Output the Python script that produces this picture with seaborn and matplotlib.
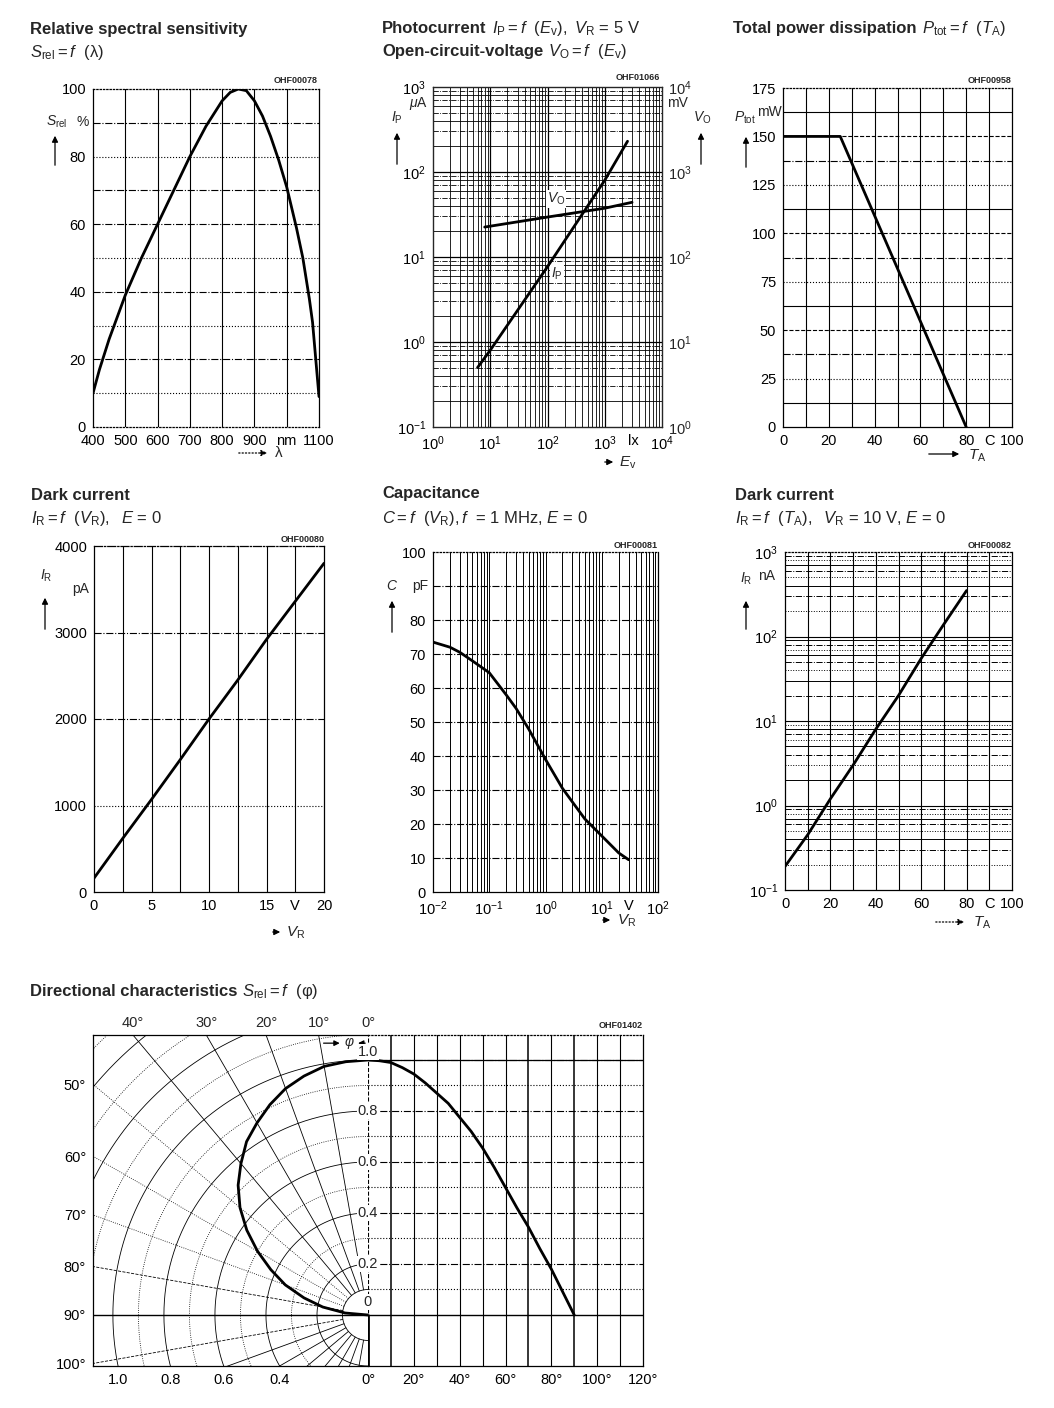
import numpy as np
import matplotlib
matplotlib.use('Agg')
import matplotlib.pyplot as plt
from matplotlib.patches import FancyArrowPatch
from matplotlib.ticker import NullFormatter
import seaborn as sns

W, H = 1054, 1408   # page size in pixels, drawn at dpi 100

# ---- curves ----
# relative spectral sensitivity
wavelength_nm = [400, 420, 450, 500, 550, 600, 650, 700, 750, 800, 825, 850,
                 875, 900, 925, 950, 975, 1000, 1030, 1050, 1070, 1080, 1090, 1100]
s_rel_pct = [10, 17, 26, 39, 50, 60, 70, 80, 89, 96.5, 99, 100,
             99.5, 96.5, 92, 86, 79, 71, 59, 50, 38, 31, 20, 9]

# photocurrent and open-circuit voltage vs illuminance
ev_ip_lx = [6, 10, 100, 1000, 2500]
ip_uA = [0.5, 0.8, 7.7, 80, 230]
ev_vo_lx = [8, 100, 1000, 3000]
vo_mV = [225, 295, 375, 440]

# total power dissipation
ta_ptot_C = [0, 25, 80]
ptot_mW = [150, 150, 0]

# dark current vs reverse voltage
vr_V = [0, 2.5, 5, 7.5, 10, 12.5, 15, 17.5, 20]
ir_pA = [160, 620, 1070, 1530, 2000, 2450, 2920, 3360, 3800]

# capacitance vs reverse voltage
vr_cap_V = [0.01, 0.02, 0.03, 0.05, 0.1, 0.2, 0.3, 0.5, 1, 2, 3, 5, 10, 20, 30]
cap_pF = [73.5, 72, 70.5, 68, 64.5, 58, 54, 48, 39, 30.5, 26.5, 21.5, 16.5, 11.5, 9.5]

# dark current vs ambient temperature
ta_ir_C = [0, 10, 20, 30, 40, 50, 60, 70, 80]
ir_nA = [0.19, 0.45, 1.2, 3.0, 8.0, 20, 55, 140, 350]

# directional characteristics
phi_deg = [0, 5, 10, 15, 20, 25, 30, 35, 40, 45, 50, 55, 60, 65, 70, 75, 80, 85, 90]
s_rel_dir = [1.0, 0.997, 0.99, 0.97, 0.945, 0.91, 0.87, 0.83, 0.775, 0.72, 0.655,
             0.58, 0.50, 0.42, 0.345, 0.26, 0.18, 0.09, 0.0]

sns.set_style('white')
plt.rcParams['font.family'] = ['Liberation Sans Narrow', 'Liberation Sans', 'DejaVu Sans']
plt.rcParams['mathtext.fontset'] = 'custom'
plt.rcParams['mathtext.rm'] = 'Liberation Sans'
plt.rcParams['mathtext.it'] = 'Liberation Sans:italic'
plt.rcParams['mathtext.bf'] = 'Liberation Sans:bold'
plt.rcParams['mathtext.sf'] = 'Liberation Sans'

fig = plt.figure(figsize=(W / 100, H / 100), dpi=100)
fig.patch.set_facecolor('white')
renderer = fig.canvas.get_renderer()
LW = 2.0   # curve width
TS = 10.5  # tick label size


def add_ax(x0, y0, x1, y1):
    ax = fig.add_axes([x0 / W, 1 - y1 / H, (x1 - x0) / W, (y1 - y0) / H])
    ax.set_facecolor('white')
    for sp in ax.spines.values():
        sp.set_color('black'); sp.set_linewidth(0.9)
    ax.tick_params(which='both', length=0, labelsize=TS, pad=5, colors='black')
    return ax


def ftext(x, y, s, **kw):
    kw.setdefault('va', 'baseline')
    return fig.text(x / W, 1 - y / H, s, **kw)


def title(x, y, bold, rest=''):
    t = ftext(x, y, bold, fontsize=12, fontweight='bold', family='Liberation Sans')
    if rest:
        bb = t.get_window_extent(renderer)
        ftext(bb.x1 + 5, y, rest, fontsize=12, family='Liberation Sans')


def arrow(x0, y0, x1, y1, ls='-'):
    fig.add_artist(FancyArrowPatch((x0 / W, 1 - y0 / H), (x1 / W, 1 - y1 / H),
                                   transform=fig.transFigure, arrowstyle='-|>',
                                   mutation_scale=9, lw=0.9, color='black', linestyle=ls))


def curve(ax, x, y):
    sns.lineplot(x=x, y=y, ax=ax, color='black', lw=LW, sort=False, estimator=None)
    ax.set_xlabel(''); ax.set_ylabel('')


def log_lines(lo, hi):
    major = [10.0 ** e for e in range(lo, hi + 1)]
    minor = [k * 10.0 ** e for e in range(lo, hi) for k in range(2, 10)]
    return major, minor


def ohf(x, y, s):
    ftext(x, y, s, fontsize=6.5, ha='right', fontweight='bold')


# ---------------- 1. relative spectral sensitivity ----------------
title(30, 34, 'Relative spectral sensitivity')
ftext(30, 57, r'$S_\mathrm{rel} = f$  (λ)', fontsize=12, family='Liberation Sans')
ax1 = add_ax(93, 89, 319, 427)
for v in range(500, 1100, 100):
    ax1.axvline(v, color='k', lw=0.8)
for v in range(10, 100, 10):
    ax1.axhline(v, color='k', lw=0.8, ls='-.' if v in (20, 40, 60, 70, 90) else ':')
curve(ax1, wavelength_nm, s_rel_pct)
ax1.set_xlim(400, 1100); ax1.set_ylim(0, 100)
ax1.set_xticks(range(400, 1101, 100), ['400', '500', '600', '700', '800', '900', 'nm', '1100'])
ax1.set_yticks(range(0, 101, 20))
ax1.spines['top'].set_linestyle(':'); ax1.spines['bottom'].set_linestyle(':')
ftext(57, 126, r'$S_\mathrm{rel}$', fontsize=10, ha='center')
ftext(83, 126, '%', fontsize=10, ha='center')
arrow(55, 168, 55, 133)
arrow(236, 453, 270, 453, ls=':')
ftext(275, 457, 'λ', fontsize=11)
ohf(318, 83, 'OHF00078')

# ---------------- 2. photocurrent / open-circuit voltage ----------------
title(382, 33, 'Photocurrent', r'$I_\mathrm{P} = f\ \ (E_\mathrm{v}),\ V_\mathrm{R}$ = 5 V')
title(382, 56, 'Open-circuit-voltage', r'$V_\mathrm{O} = f\ \ (E_\mathrm{v})$')
ax2 = add_ax(433, 87, 662, 427)
ax2.set_xscale('log'); ax2.set_yscale('log')
xmaj, xmin = log_lines(0, 4)
ymaj, ymin = log_lines(-1, 3)
for v in xmaj[1:-1]:
    ax2.axvline(v, color='k', lw=0.9)
for v in xmin:
    ax2.axvline(v, color='k', lw=0.6)
for v in ymaj[1:-1]:
    ax2.axhline(v, color='k', lw=0.9)
for i, v in enumerate(ymin):
    ax2.axhline(v, color='k', lw=0.6, ls='-.' if i % 2 else '-')
curve(ax2, ev_ip_lx, ip_uA)
ax2.set_xlim(1, 1e4); ax2.set_ylim(0.1, 1e3)
ax2.set_xticks([1, 10, 100, 1000, 10 ** 3.5, 1e4],
               ['$10^0$', '$10^1$', '$10^2$', '$10^3$', 'lx', '$10^4$'])
ax2.set_yticks(ymaj, ['$10^{-1}$', '$10^0$', '$10^1$', '$10^2$', '$10^3$'])
ax2.xaxis.set_minor_formatter(NullFormatter()); ax2.yaxis.set_minor_formatter(NullFormatter())
ax2r = ax2.twinx()
ax2r.set_yscale('log')
curve(ax2r, ev_vo_lx, vo_mV)
ax2r.set_ylim(1, 1e4)
ax2r.set_yticks(log_lines(0, 4)[0], ['$10^0$', '$10^1$', '$10^2$', '$10^3$', '$10^4$'])
ax2r.yaxis.set_minor_formatter(NullFormatter())
ax2r.tick_params(which='both', length=0, labelsize=TS, pad=4)
ftext(556, 203, r'$V_\mathrm{O}$', fontsize=10, ha='center',
      bbox=dict(fc='white', ec='none', pad=0.5))
ftext(557, 278, r'$I_\mathrm{P}$', fontsize=10, ha='center',
      bbox=dict(fc='white', ec='none', pad=0.5))
ftext(428, 107, r'$\mu$A', fontsize=10, ha='right')
ftext(667, 107, 'mV', fontsize=10)
ftext(397, 122, r'$I_\mathrm{P}$', fontsize=10, ha='center')
arrow(397, 167, 397, 130)
ftext(702, 122, r'$V_\mathrm{O}$', fontsize=10, ha='center')
arrow(701, 167, 701, 130)
arrow(602, 462, 616, 462)
ftext(619, 467, r'$E_\mathrm{v}$', fontsize=11)
ohf(660, 80, 'OHF01066')

# ---------------- 3. total power dissipation ----------------
title(733, 33, 'Total power dissipation', r'$P_\mathrm{tot} = f\ \ (T_\mathrm{A})$')
ax3 = add_ax(783, 88, 1012, 427)
for v in range(10, 100, 10):
    ax3.axvline(v, color='k', lw=0.8)
hstyles = ['-', ':', '-.', '--']
for i, v in enumerate(np.arange(12.5, 175, 12.5)):
    ax3.axhline(v, color='k', lw=0.8, ls=hstyles[i % 4])
curve(ax3, ta_ptot_C, ptot_mW)
ax3.set_xlim(0, 100); ax3.set_ylim(0, 175)
ax3.set_xticks([0, 20, 40, 60, 80, 90, 100], ['0', '20', '40', '60', '80', 'C', '100'])
ax3.set_yticks(range(0, 176, 25))
ax3.spines['top'].set_linestyle(':')
ftext(745, 122, r'$P_\mathrm{tot}$', fontsize=10, ha='center')
ftext(757, 116, 'mW', fontsize=10)
arrow(746, 170, 746, 134)
arrow(926, 454, 962, 454)
ftext(968, 460, r'$T_\mathrm{A}$', fontsize=11)
ohf(1012, 83, 'OHF00958')

# ---------------- 4. dark current vs V_R ----------------
title(31, 500, 'Dark current')
ftext(31, 523, r'$I_\mathrm{R} = f\ \ (V_\mathrm{R}),\ \ E$ = 0', fontsize=12, family='Liberation Sans')
ax4 = add_ax(94, 546, 324, 892)
for v in np.arange(2.5, 20, 2.5):
    ax4.axvline(v, color='k', lw=0.8)
for v, ls in zip([1000, 2000, 3000], [':', '-.', '-.']):
    ax4.axhline(v, color='k', lw=0.8, ls=ls)
curve(ax4, vr_V, ir_pA)
ax4.set_xlim(0, 20); ax4.set_ylim(0, 4000)
ax4.set_xticks([0, 5, 10, 15, 17.5, 20], ['0', '5', '10', '15', 'V', '20'])
ax4.set_yticks(range(0, 4001, 1000))
ax4.spines['top'].set_linestyle('-.')
ftext(46, 580, r'$I_\mathrm{R}$', fontsize=10, ha='center')
ftext(72, 593, 'pA', fontsize=10)
arrow(45, 632, 45, 595)
arrow(270, 932, 283, 932)
ftext(286, 937, r'$V_\mathrm{R}$', fontsize=11)
ohf(325, 542, 'OHF00080')

# ---------------- 5. capacitance ----------------
title(382, 498, 'Capacitance')
ftext(382, 523, r'$C = f\ \ (V_\mathrm{R}), f$  = 1 MHz, $E$ = 0', fontsize=12, family='Liberation Sans')
ax5 = add_ax(433, 552, 658, 892)
ax5.set_xscale('log')
cmaj, cmin = log_lines(-2, 2)
for v in cmaj[1:-1] + cmin:
    ax5.axvline(v, color='k', lw=0.7)
for v in range(10, 100, 10):
    ax5.axhline(v, color='k', lw=0.8, ls='-.')
curve(ax5, vr_cap_V, cap_pF)
ax5.set_xlim(0.01, 100); ax5.set_ylim(0, 100)
ax5.set_xticks([0.01, 0.1, 1, 10, 30, 100],
               ['$10^{-2}$', '$10^{-1}$', '$10^0$', '$10^1$', 'V', '$10^2$'])
ax5.xaxis.set_minor_formatter(NullFormatter())
ax5.set_yticks(range(0, 101, 10), [str(v) if v != 90 else '' for v in range(0, 101, 10)])
ax5.spines['top'].set_linestyle(':')
ftext(392, 590, r'$C$', fontsize=10, ha='center')
ftext(412, 590, 'pF', fontsize=10)
arrow(392, 635, 392, 598)
arrow(600, 920, 613, 920)
ftext(617, 925, r'$V_\mathrm{R}$', fontsize=11)
ohf(658, 548, 'OHF00081')

# ---------------- 6. dark current vs T_A ----------------
title(735, 500, 'Dark current')
ftext(735, 523, r'$I_\mathrm{R} = f\ \ (T_\mathrm{A}),\ \ V_\mathrm{R}$ = 10 V, $E$ = 0',
      fontsize=12, family='Liberation Sans')
ax6 = add_ax(785, 552, 1012, 890)
ax6.set_yscale('log')
for v in range(10, 100, 10):
    ax6.axvline(v, color='k', lw=0.8)
dmaj, dmin = log_lines(-1, 3)
for v in dmaj[1:-1]:
    ax6.axhline(v, color='k', lw=0.8)
for i, v in enumerate(dmin):
    ax6.axhline(v, color='k', lw=0.7, ls=[':', '-.', '-'][i % 3])
curve(ax6, ta_ir_C, ir_nA)
ax6.set_xlim(0, 100); ax6.set_ylim(0.1, 1000)
ax6.set_xticks([0, 20, 40, 60, 80, 90, 100], ['0', '20', '40', '60', '80', 'C', '100'])
ax6.set_yticks(dmaj, ['$10^{-1}$', '$10^0$', '$10^1$', '$10^2$', '$10^3$'])
ax6.yaxis.set_minor_formatter(NullFormatter())
ax6.spines['top'].set_linestyle(':')
ftext(746, 583, r'$I_\mathrm{R}$', fontsize=10, ha='center')
ftext(758, 580, 'nA', fontsize=10)
arrow(746, 632, 746, 598)
arrow(933, 922, 967, 922, ls=':')
ftext(973, 927, r'$T_\mathrm{A}$', fontsize=11)
ohf(1012, 548, 'OHF00082')

# ---------------- 7. directional characteristics ----------------
title(30, 996, 'Directional characteristics', r'$S_\mathrm{rel} = f$  (φ)')
axL = add_ax(93, 1035, 368, 1366)
axR = add_ax(368, 1035, 643, 1366)
XL, YT, YB = -1.078, 1.098, -0.2
axL.set_xlim(XL, 0); axL.set_ylim(YB, YT)
axR.set_xlim(0, 120); axR.set_ylim(YB, YT)

# polar grid: rings every 0.1, spokes every 10 degrees
th = np.radians(np.linspace(0, 180, 361))
for k in range(1, 16):
    r = k / 10
    axL.plot(-r * np.sin(th), r * np.cos(th), color='k', lw=0.6,
             ls='-' if (k % 2 == 0 or k == 1) else ':')
for a in range(10, 181, 10):
    t = np.radians(a)
    rr = np.array([0.1, 2.0])
    if a <= 40 or a > 100:
        ls = '-'
    elif a in (80, 100):
        ls = '--'
    elif a == 90:
        continue
    else:
        ls = ':'
    axL.plot(-rr * np.sin(t), rr * np.cos(t), color='k', lw=0.6, ls=ls)
axL.axhline(0, color='k', lw=1.0)
phi_r = np.radians(phi_deg)
curve(axL, -np.array(s_rel_dir) * np.sin(phi_r), np.array(s_rel_dir) * np.cos(phi_r))
axL.set_xlim(XL, 0); axL.set_ylim(YB, YT)
axL.spines['right'].set_visible(False)

ring_r = [1.0, 0.8, 0.6, 0.4]
axL.set_xticks([-np.sqrt(r ** 2 - YB ** 2) for r in ring_r] + [0],
               ['1.0', '0.8', '0.6', '0.4', '0°'])
side_deg = [50, 60, 70, 80, 90, 100]
axL.set_yticks([-XL / np.tan(np.radians(a)) for a in side_deg], [f'{a}°' for a in side_deg])
for a in [40, 30, 20, 10, 0]:
    axL.text(-YT * np.tan(np.radians(a)), 1.015, f'{a}°', transform=axL.get_xaxis_transform(),
             ha='center', va='bottom', fontsize=TS)
axL.annotate('', xy=(-0.10, 1.066), xytext=(-0.185, 1.066),
             arrowprops=dict(arrowstyle='-|>', lw=0.9, color='k', mutation_scale=8))
axL.annotate('', xy=(-0.05, 1.066), xytext=(0, 1.066),
             arrowprops=dict(arrowstyle='-|>', lw=0.9, color='k', mutation_scale=8))
axL.text(-0.075, 1.066, r'$\varphi$', ha='center', va='center', fontsize=10)

for v in np.arange(0.1, 1.1, 0.1):
    axR.axhline(v, color='k', lw=0.8, ls='-.' if round(v * 10) % 2 == 0 else ':')
for v in range(10, 120, 10):
    axR.axvline(v, color='k', lw=1.1 if v in (10, 70, 90) else 0.8)
axR.axhline(0, color='k', lw=1.0)
axR.axhline(1.0, color='k', lw=0.9)
axR.axvline(0, color='k', lw=0.8, ls='--')
axR.plot([0, 0], [YB, 0], color='k', lw=2.0)
curve(axR, phi_deg, s_rel_dir)
axR.set_xlim(0, 120); axR.set_ylim(YB, YT)
axR.spines['left'].set_visible(False)
axR.spines['top'].set_linestyle(':')
axR.set_yticks([])
axR.set_xticks(range(20, 121, 20), [f'{a}°' for a in range(20, 121, 20)])
for v, dy in zip([1.0, 0.8, 0.6, 0.4, 0.2, 0.0], [0.03, 0, 0, 0, 0, 0.05]):
    axR.text(0, v + dy, '0' if v == 0 else f'{v:.1f}', ha='center', va='center', fontsize=TS,
             bbox=dict(fc='white', ec='none', pad=0.6), zorder=5)
ohf(643, 1028, 'OHF01402')

fig.savefig('out.png', dpi=100, facecolor='white')
